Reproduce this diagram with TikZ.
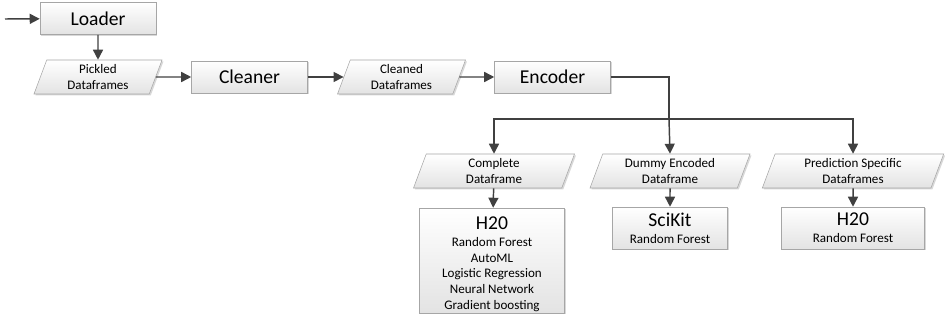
\documentclass[tikz,border=0pt]{standalone}
\usepackage{fontspec}
\setmainfont{Carlito}
\usetikzlibrary{arrows.meta,positioning,calc,shapes.geometric,shadows}

\definecolor{edgegray}{HTML}{A6A6A6}
\definecolor{linkgray}{HTML}{404040}
\newcommand{\boxhead}[1]{{\fontsize{14.7}{17}\selectfont #1}}

\begin{document}
\begin{tikzpicture}[x=0.75pt, y=-0.75pt,
    every node/.style={font=\fontsize{9.8}{11.6}\selectfont, align=center, inner sep=1pt},
    shade/.style={draw=edgegray, top color=white, bottom color=black!11,
        drop shadow={shadow xshift=1.1pt, shadow yshift=-1.1pt, fill=black!30, opacity=0.5}},
    proc/.style={shade, minimum width=87pt, minimum height=24pt, font=\fontsize{14.7}{17}\selectfont},
    model/.style={shade, font=\fontsize{9.8}{11.8}\selectfont},
    data/.style={shade, trapezium, trapezium left angle=65, trapezium right angle=115,
        trapezium stretches body, minimum height=25.5pt, minimum width=96pt},
    arr/.style={-{Triangle[length=7.5pt, width=7.5pt]}, line width=1.1pt, draw=linkgray},
    link/.style={line width=1.1pt, draw=linkgray}
]
\useasboundingbox (0,0) rectangle (945,324);

% Top row - loading and cleaning
\coordinate (start) at (5,19);
\node[proc] (load)    at (98,18.5)  {Loader};
\node[data] (pick)    at (98,77)    {Pickled\\Dataframes};
\node[proc] (clean)   at (249.5,77) {Cleaner};
\node[data] (cleaned) at (401.5,77) {Cleaned\\Dataframes};
\node[proc] (enc)     at (552.5,77) {Encoder};

% Encoded dataframes
\coordinate (split) at (669,119);
\node[data, minimum width=120.75pt] (comp)  at (494,171) {Complete\\Dataframe};
\node[data, minimum width=120pt]    (dummy) at (670,171) {Dummy Encoded\\Dataframe};
\node[data, minimum width=136pt]    (pred)  at (853,171) {Prediction Specific\\Dataframes};

% Models
\node[model, minimum width=108.75pt, minimum height=78.75pt] (hoa) at (492,260.5)
    {\boxhead{\rule{0pt}{15pt}H20}\\[1pt]Random Forest\\AutoML\\Logistic Regression\\Neural Network\\Gradient boosting};
\node[model, minimum width=86.25pt, minimum height=31.5pt] (sci) at (670,228)
    {\boxhead{SciKit}\\[1pt]Random Forest};
\node[model, minimum width=107.25pt, minimum height=31.5pt] (hob) at (853,228)
    {\boxhead{H20}\\[1pt]Random Forest};

% Connectors
\draw[arr] (start)   -- (load);
\draw[arr] (load)    -- (pick);
\draw[arr] (pick)    -- (clean);
\draw[arr] (clean)   -- (cleaned);
\draw[arr] (cleaned) -- (enc);
\draw[link] (enc.east) -| (split);
\draw[arr] (split) -| (comp.north);
\draw[arr] (split) -- (dummy.north);
\draw[arr] (split) -| (pred.north);
\draw[arr] (comp)  -- (hoa);
\draw[arr] (dummy) -- (sci);
\draw[arr] (pred)  -- (hob);
\end{tikzpicture}
\end{document}
